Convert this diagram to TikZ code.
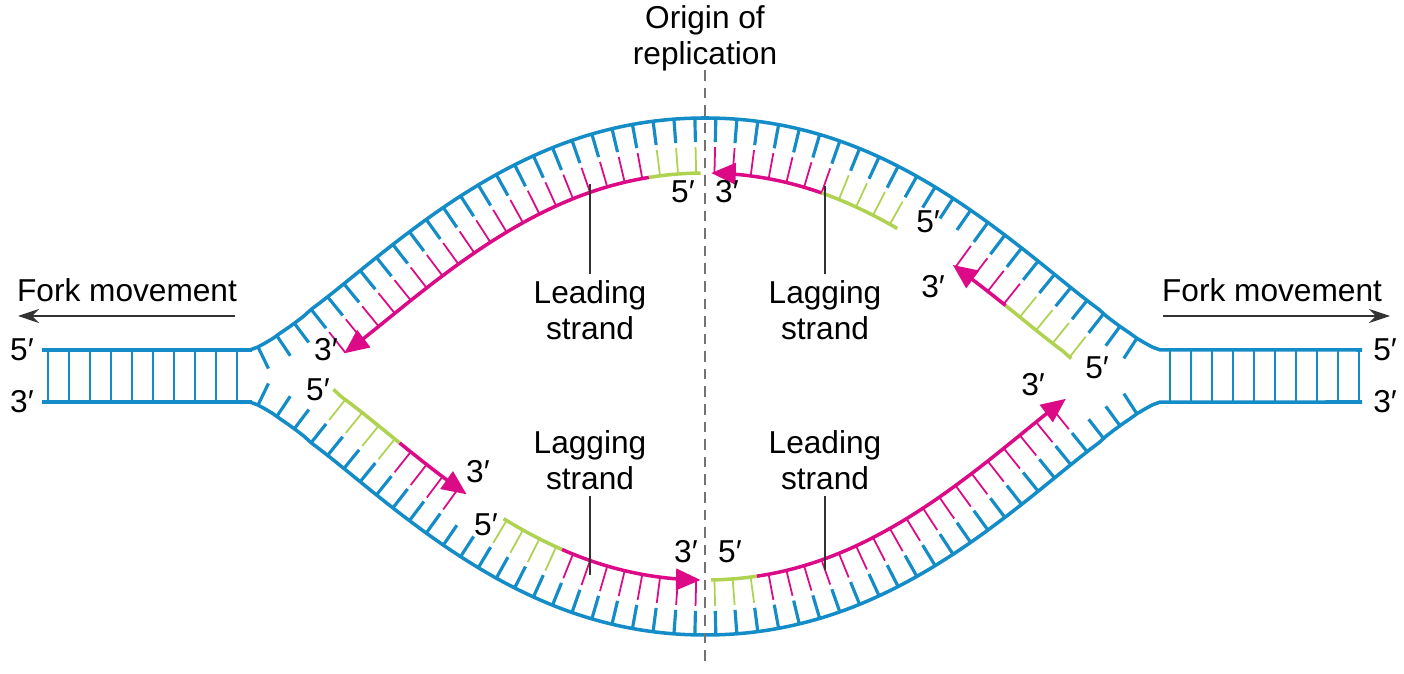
\documentclass[tikz,border=0pt]{standalone}
\usepackage{fontspec}
\setmainfont{Liberation Sans}
\usetikzlibrary{arrows.meta}
\definecolor{dnablue}{RGB}{20,140,200}
\definecolor{dnamag}{RGB}{220,10,135}
\definecolor{dnagreen}{RGB}{175,210,80}
\tikzset{
  declare function={
    uu(\x)=max(0.001,min(1,(455-abs(\x-705))/455));
    vv(\x)=uu(\x)^0.65;
    gg(\x)=(1-cos(180*vv(\x)))/2;
    st(\x)=0.5207*sin(180*vv(\x))*uu(\x)^(-0.35)*sign(\x-705);
    nn(\x)=sqrt(1+st(\x)^2);
    ix(\x)=\x-55*st(\x)/nn(\x);
    tiy(\x)=350-232*gg(\x)+55/nn(\x);
    biy(\x)=402+233*gg(\x)-55/nn(\x);
    tm(\x)=or(and(\x>=310,\x<640),or(and(\x>=712,\x<840),and(\x>=985,\x<1040)));
    tg(\x)=or(and(\x>=640,\x<700),or(and(\x>=840,\x<925),and(\x>=1040,\x<1105)));
    bm(\x)=or(and(\x>=365,\x<435),or(and(\x>=540,\x<700),and(\x>=765,\x<1100)));
    bg(\x)=or(and(\x>=300,\x<365),or(and(\x>=475,\x<540),and(\x>=712,\x<765)));
  },
  backbone/.style={dnablue, line width=1pt},
  bluerung/.style={dnablue, line width=0.9pt},
  thinrung/.style={dnablue, line width=0.5pt},
  magrung/.style={dnamag, line width=0.5pt},
  greenrung/.style={dnagreen, line width=0.5pt},
  newmag/.style={dnamag, line width=1pt},
  newgreen/.style={dnagreen, line width=1pt},
  tip/.style={-{Triangle[length=7pt,width=6pt]}},
  lbl/.style={font=\fontsize{9}{10.2}\selectfont, inner sep=0pt},
  strandlbl/.style={lbl, align=center},
  pointer/.style={black!80, line width=0.35pt},
}
% one pair of rungs (top and bottom strand) at parameter x
\newcommand\rung[1]{%
  \pgfmathsetmacro\rs{st(#1)}\pgfmathsetmacro\rn{nn(#1)}%
  \pgfmathsetmacro\ry{350-232*gg(#1)}\pgfmathsetmacro\rb{402+233*gg(#1)}%
  \draw[bluerung] (#1,\ry) -- ++({-24*\rs/\rn},{24/\rn});
  \draw[bluerung] (#1,\rb) -- ++({-24*\rs/\rn},{-24/\rn});
  \pgfmathtruncatemacro\ct{tm(#1)+2*tg(#1)}%
  \pgfmathtruncatemacro\cb{bm(#1)+2*bg(#1)}%
  \ifcase\ct\or
    \draw[magrung] (#1,\ry) ++({-29*\rs/\rn},{29/\rn}) -- ++({-26*\rs/\rn},{26/\rn});
  \or
    \draw[greenrung] (#1,\ry) ++({-29*\rs/\rn},{29/\rn}) -- ++({-26*\rs/\rn},{26/\rn});
  \fi
  \ifcase\cb\or
    \draw[magrung] (#1,\rb) ++({-29*\rs/\rn},{-29/\rn}) -- ++({-26*\rs/\rn},{-26/\rn});
  \or
    \draw[greenrung] (#1,\rb) ++({-29*\rs/\rn},{-29/\rn}) -- ++({-26*\rs/\rn},{-26/\rn});
  \fi
}
\begin{document}
\begin{tikzpicture}[x=0.01cm, y=-0.01cm]
  \useasboundingbox (0,0) rectangle (1404,674);

  % parental strands
  \draw[backbone] (42,350) -- (250,350)
    -- plot[domain=250:1160, samples=120] (\x,{350-232*gg(\x)}) -- (1362,350);
  \draw[backbone] (42,402) -- (250,402)
    -- plot[domain=250:1160, samples=120] (\x,{402+233*gg(\x)}) -- (1362,402);
  \foreach \x in {48,69,...,240} \draw[thinrung] (\x,350) -- (\x,402);
  \foreach \x in {1170,1191,...,1362} \draw[thinrung] (\x,350) -- (\x,402);

  % rungs in the bubble
  \def\xx{258}
  \loop
    \rung{\xx}
    \pgfmathsetmacro\ss{st(\xx)}
    \pgfmathsetmacro\xx{\xx+21/sqrt(1+\ss*\ss)}
  \ifdim\xx pt<1152pt\repeat

  % new strands, top
  \draw[newgreen] plot[domain=700:640, samples=8] ({ix(\x)},{tiy(\x)});
  \draw[newmag, tip] plot[domain=640:310, samples=40] ({ix(\x)},{tiy(\x)});
  \draw[newgreen] plot[domain=925:840, samples=10] ({ix(\x)},{tiy(\x)});
  \draw[newmag, tip] plot[domain=840:712, samples=15] ({ix(\x)},{tiy(\x)});
  \draw[newgreen] plot[domain=1105:1040, samples=10] ({ix(\x)},{tiy(\x)});
  \draw[newmag, tip] plot[domain=1040:985, samples=8] ({ix(\x)},{tiy(\x)});
  % new strands, bottom
  \draw[newgreen] plot[domain=300:365, samples=10] ({ix(\x)},{biy(\x)});
  \draw[newmag, tip] plot[domain=365:435, samples=10] ({ix(\x)},{biy(\x)});
  \draw[newgreen] plot[domain=475:540, samples=10] ({ix(\x)},{biy(\x)});
  \draw[newmag, tip] plot[domain=540:700, samples=20] ({ix(\x)},{biy(\x)});
  \draw[newgreen] plot[domain=712:765, samples=8] ({ix(\x)},{biy(\x)});
  \draw[newmag, tip] plot[domain=765:1100, samples=40] ({ix(\x)},{biy(\x)});

  % origin
  \node[strandlbl] (origin) at (705,38) {Origin of\\replication};
  \coordinate (originstart) at (705,70);
  \coordinate (originend) at (705,665);
  \draw[black!55, dash pattern=on 3pt off 2pt, line width=0.4pt] (originstart) -- (originend);

  % fork movement
  \node[lbl] (forkl) at (127,290) {Fork movement};
  \node[lbl] (forkr) at (1272,290) {Fork movement};
  \coordinate (fla) at (235,316); \coordinate (flb) at (18,316);
  \coordinate (fra) at (1163,316); \coordinate (frb) at (1390,316);
  \draw[pointer, -{Stealth[length=6pt,width=4pt]}] (fla) -- (flb);
  \draw[pointer, -{Stealth[length=6pt,width=4pt]}] (fra) -- (frb);

  % strand labels
  \node[strandlbl] (leadtop) at (590,310) {Leading\\strand};
  \node[strandlbl] (lagtop) at (825,310) {Lagging\\strand};
  \node[strandlbl] (lagbot) at (590,460) {Lagging\\strand};
  \node[strandlbl] (leadbot) at (825,460) {Leading\\strand};
  \coordinate (pleadtop) at (590,184);
  \coordinate (plagtop) at (825,186);
  \coordinate (plagbot) at (590,575);
  \coordinate (pleadbot) at (825,570);
  \draw[pointer] (leadtop.north) ++(0,-6) -- (pleadtop);
  \draw[pointer] (lagtop.north) ++(0,-6) -- (plagtop);
  \draw[pointer] (lagbot.south) ++(0,6) -- (plagbot);
  \draw[pointer] (leadbot.south) ++(0,6) -- (pleadbot);

  % ends
  \node[lbl] (l5) at (22,350) {5′};
  \node[lbl] (l3) at (22,402) {3′};
  \node[lbl] (r5) at (1385,350) {5′};
  \node[lbl] (r3) at (1385,402) {3′};
  \node[lbl] (a5) at (683,192) {5′};
  \node[lbl] (a3) at (727,192) {3′};
  \node[lbl] (b5) at (928,222) {5′};
  \node[lbl] (b3) at (933,287) {3′};
  \node[lbl] (c5) at (1097,368) {5′};
  \node[lbl] (c3) at (1033,385) {3′};
  \node[lbl] (d3) at (326,350) {3′};
  \node[lbl] (d5) at (318,390) {5′};
  \node[lbl] (e3) at (478,472) {3′};
  \node[lbl] (e5) at (486,525) {5′};
  \node[lbl] (f3) at (686,552) {3′};
  \node[lbl] (f5) at (730,552) {5′};
\end{tikzpicture}
\end{document}
